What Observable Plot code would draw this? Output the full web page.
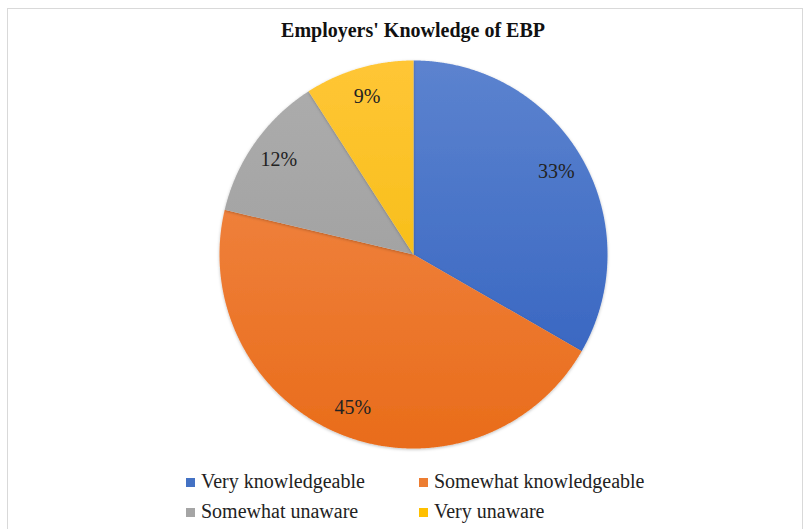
<!DOCTYPE html>
<html><head><meta charset="utf-8">
<script src="https://cdn.jsdelivr.net/npm/d3@7"></script>
<script src="https://cdn.jsdelivr.net/npm/@observablehq/plot@0.6"></script>
<style>
body{margin:0;background:#fff;}
#frame{position:absolute;left:0;top:0;width:805px;height:529px;overflow:hidden;font-family:"Liberation Serif","Times New Roman",serif;color:#222;}
#border{position:absolute;left:7px;top:8px;width:796px;height:540px;border:1.5px solid #d9d9d9;box-sizing:border-box;}
#title{position:absolute;left:0;width:826px;top:19px;text-align:center;font-weight:bold;font-size:20px;color:#111;}
#chart{position:absolute;left:0;top:40px;}
.leg{position:absolute;font-size:20px;white-space:nowrap;line-height:22px;}
.sw{display:inline-block;width:9px;height:9px;margin-right:6px;vertical-align:1px;}
</style></head>
<body><div id="frame"><div id="border"></div><div id="title"></div><div id="chart"></div><div id="legend"></div></div>
<script>
const title = "Employers' Knowledge of EBP";
const categories = ["Very knowledgeable", "Somewhat knowledgeable", "Somewhat unaware", "Very unaware"];
const values = [33.3, 45.4, 12.2, 9.1];
const labels = ["33%", "45%", "12%", "9%"];
const colorsTop = ["#5c83cf", "#f28c4f", "#adadad", "#ffc636"];
const colorsBottom = ["#2f5fbe", "#e96c1a", "#999999", "#f0b800"];
const legendColors = ["#4472c4", "#ed7d31", "#a5a5a5", "#ffc000"];

document.getElementById("title").textContent = title;

const arcs = d3.pie().sort(null).value(d => d)(values);
const slices = arcs.map((a, i) => {
  const pts = [{x: 0, y: 0}];
  const n = Math.max(2, Math.ceil((a.endAngle - a.startAngle) / 0.005));
  for (let k = 0; k <= n; k++) {
    const t = a.startAngle + (a.endAngle - a.startAngle) * k / n;
    pts.push({x: Math.sin(t), y: Math.cos(t)});
  }
  pts.push({x: 0, y: 0});
  const mid = (a.startAngle + a.endAngle) / 2;
  return {i, pts, label: labels[i], lx: Math.sin(mid) * 0.85, ly: Math.cos(mid) * 0.85};
});

const plot = Plot.plot({
  width: 805, height: 420,
  marginLeft: 219, marginRight: 198, marginTop: 20, marginBottom: 12,
  x: {domain: [-1, 1], axis: null},
  y: {domain: [-1, 1], axis: null},
  marks: [
    ...slices.map(s => Plot.line(s.pts, {x: "x", y: "y", fill: `url(#g${s.i})`, stroke: "none", curve: "linear"})),
    Plot.text(slices, {x: "lx", y: "ly", text: "label", fontSize: 20, fontFamily: "Liberation Serif, Times New Roman, serif", fill: "#222"})
  ]
});

const svg = d3.select(plot);
const yS = plot.scale("y");
const defs = svg.insert("defs", ":first-child");
legendColors.forEach((c, i) => {
  const g = defs.append("linearGradient").attr("id", `g${i}`).attr("gradientUnits", "userSpaceOnUse")
    .attr("x1", 0).attr("x2", 0).attr("y1", yS.apply(1)).attr("y2", yS.apply(-1));
  g.append("stop").attr("offset", "0").attr("stop-color", colorsTop[i]);
  g.append("stop").attr("offset", "1").attr("stop-color", colorsBottom[i]);
});
const f = defs.append("filter").attr("id", "sh").attr("x", "-10%").attr("y", "-10%").attr("width", "120%").attr("height", "120%");
f.append("feDropShadow").attr("dx", 0).attr("dy", 1).attr("stdDeviation", 1.5).attr("flood-color", "#000").attr("flood-opacity", 0.25);
svg.selectAll("g[aria-label='line']").attr("filter", "url(#sh)");

document.getElementById("chart").appendChild(plot);

const legend = document.getElementById("legend");
const pos = [[186, 470], [419, 470], [186, 500], [419, 500]];
categories.forEach((c, i) => {
  const d = document.createElement("div");
  d.className = "leg";
  d.style.left = pos[i][0] + "px";
  d.style.top = pos[i][1] + "px";
  d.innerHTML = `<span class="sw" style="background:${legendColors[i]}"></span>`;
  d.appendChild(document.createTextNode(c));
  legend.appendChild(d);
});
</script></body></html>
